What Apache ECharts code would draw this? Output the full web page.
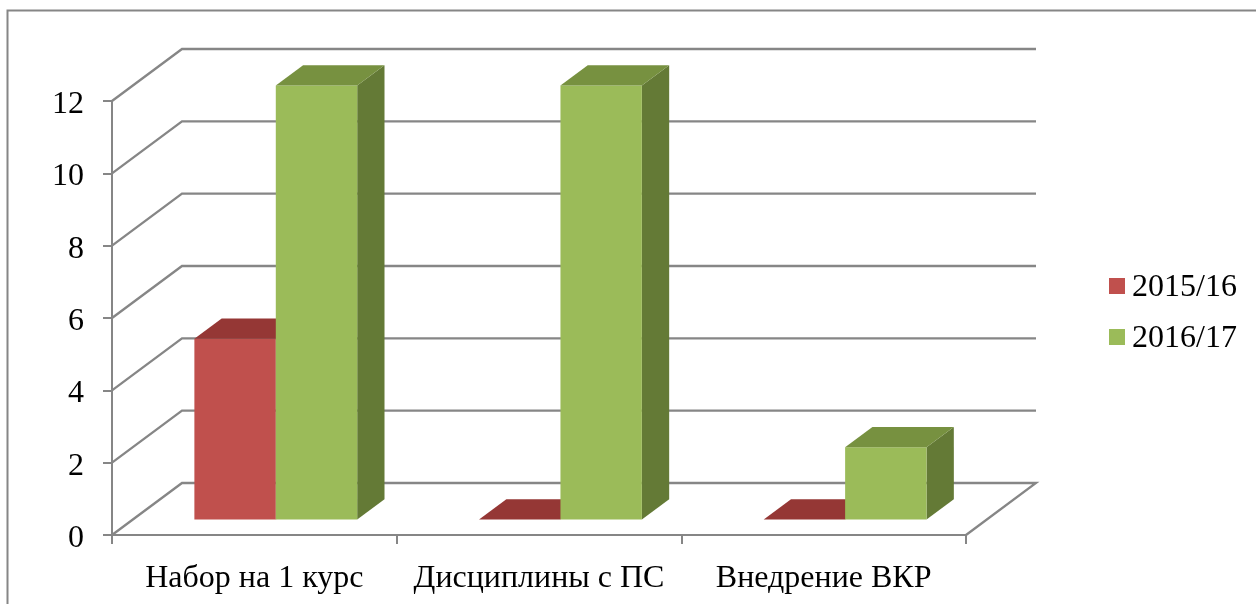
<!DOCTYPE html>
<html>
<head>
<meta charset="utf-8">
<title>Динамика показателей</title>
<script src="https://cdn.jsdelivr.net/npm/echarts@6/dist/echarts.min.js"></script>
<style>
  html, body { margin: 0; padding: 0; background: #fff; overflow: hidden; }
  #chart { width: 1256px; height: 604px; }
</style>
</head>
<body>
<div id="chart"></div>
<script>
// Chart data
const categories = ['Набор на 1 курс', 'Дисциплины с ПС', 'Внедрение ВКР'];
const year1Name = '2015/16';
const year2Name = '2016/17';
const year1Values = [5, 0, 0];
const year2Values = [12, 12, 2];
const yTicks = [0, 2, 4, 6, 8, 10, 12];

// Oblique projection of the 3D box
const WALL_DX = 70, WALL_DY = -52;     // front plane to back wall
const BAR_INSET = 0.298;               // share of the depth in front of a bar
const BAR_DEPTH = 0.39;                // share of the depth taken by a bar
const BAR_WIDTH_SHARE = 0.286;         // one bar's width as a share of the band
const BAR_NUDGE_X = 0.6;               // horizontal fine-tuning of the bar pairs

const LINE = '#868686';
const LINE_WIDTH = 2.3;
const FONT = '"Liberation Serif", "Times New Roman", serif';

const palette = {
  red:   { front: '#C0504D', top: '#953735', side: '#772C2A' },
  green: { front: '#9BBB59', top: '#779140', side: '#647A36' }
};

// Back wall gridlines, with the connector from the front axis
function renderWall(params, api) {
  const value = api.value(1);
  const cs = params.coordSys;
  const p = api.coord([0, value]);
  const y = p[1];
  const x0 = cs.x, x1 = cs.x + cs.width;
  const style = { stroke: LINE, lineWidth: LINE_WIDTH, fill: 'none' };
  const points = [[x0, y], [x0 + WALL_DX, y + WALL_DY], [x1 + WALL_DX, y + WALL_DY]];
  if (value === 0) points.push([x1, y]);
  return { type: 'polyline', shape: { points }, style, silent: true };
}

// One bar: front face, top face and right side, shifted into the floor depth
function barRenderer(colors, slot) {
  return function (params, api) {
    const cat = api.value(0);
    const c0 = api.coord([cat, 0]);
    const c1 = api.coord([cat, api.value(1)]);
    const band = api.size([1, 0])[0];
    const w = band * BAR_WIDTH_SHARE;
    const ix = WALL_DX * BAR_INSET, iy = WALL_DY * BAR_INSET;
    const dx = WALL_DX * BAR_DEPTH, dy = WALL_DY * BAR_DEPTH;
    const l = c0[0] + ix + BAR_NUDGE_X + (slot - 1) * w, r = l + w;
    const b = c0[1] + iy, t = c1[1] + iy;
    const children = [];
    if (b - t > 0.5) {
      children.push({
        type: 'polygon',
        shape: { points: [[r, t], [r + dx, t + dy], [r + dx, b + dy], [r, b]] },
        style: { fill: colors.side }
      });
      children.push({
        type: 'rect',
        shape: { x: l, y: t, width: w, height: b - t },
        style: { fill: colors.front }
      });
    }
    children.push({
      type: 'polygon',
      shape: { points: [[l, t], [r, t], [r + dx, t + dy], [l + dx, t + dy]] },
      style: { fill: colors.top }
    });
    return { type: 'group', children };
  };
}

function pairs(values) {
  return values.map((v, i) => [i, v]);
}

const chart = echarts.init(document.getElementById('chart'), null, { renderer: 'canvas' });
chart.setOption({
  animation: false,
  backgroundColor: '#ffffff',
  textStyle: { fontFamily: FONT },
  graphic: [{
    type: 'rect',
    shape: { x: 7.5, y: 10.5, width: 1300, height: 700 },
    style: { fill: 'none', stroke: LINE, lineWidth: 2 },
    silent: true,
    z: -1
  }],
  grid: { left: 112, top: 101, width: 854, height: 434 },
  xAxis: {
    type: 'category',
    data: categories,
    boundaryGap: true,
    axisLine: { show: true, lineStyle: { color: LINE, width: 2 } },
    axisTick: { show: true, length: 9, lineStyle: { color: LINE, width: 2 } },
    axisLabel: { color: '#000', fontSize: 32, fontFamily: FONT, margin: 28, interval: 0 },
    splitLine: { show: false }
  },
  yAxis: {
    type: 'value',
    min: 0,
    max: 12,
    interval: 2,
    axisLine: { show: true, lineStyle: { color: LINE, width: 2 } },
    axisTick: { show: true, length: 9, lineStyle: { color: LINE, width: 2 } },
    axisLabel: {
      formatter: '{t|{value}}',
      margin: 28,
      rich: { t: { color: '#000', fontSize: 32, fontFamily: FONT, padding: [7, 0, 0, 0] } }
    },
    splitLine: { show: false }
  },
  legend: {
    left: 1109,
    top: 272,
    padding: 0,
    orient: 'vertical',
    itemWidth: 16,
    itemHeight: 16,
    itemGap: 19,
    icon: 'rect',
    data: [year1Name, year2Name],
    formatter: name => '{t|' + name + '}',
    textStyle: {
      rich: { t: { color: '#000', fontSize: 32, fontFamily: FONT, padding: [4, 0, 0, 2] } }
    }
  },
  series: [
    {
      name: 'wall',
      type: 'custom',
      coordinateSystem: 'cartesian2d',
      renderItem: renderWall,
      encode: { x: 0, y: 1 },
      data: yTicks.map(v => [0, v]),
      clip: false,
      silent: true
    },
    {
      name: year1Name,
      type: 'custom',
      coordinateSystem: 'cartesian2d',
      renderItem: barRenderer(palette.red, 0),
      encode: { x: 0, y: 1 },
      itemStyle: { color: palette.red.front },
      data: pairs(year1Values),
      clip: false
    },
    {
      name: year2Name,
      type: 'custom',
      coordinateSystem: 'cartesian2d',
      renderItem: barRenderer(palette.green, 1),
      encode: { x: 0, y: 1 },
      itemStyle: { color: palette.green.front },
      data: pairs(year2Values),
      clip: false
    }
  ]
});
</script>
</body>
</html>
